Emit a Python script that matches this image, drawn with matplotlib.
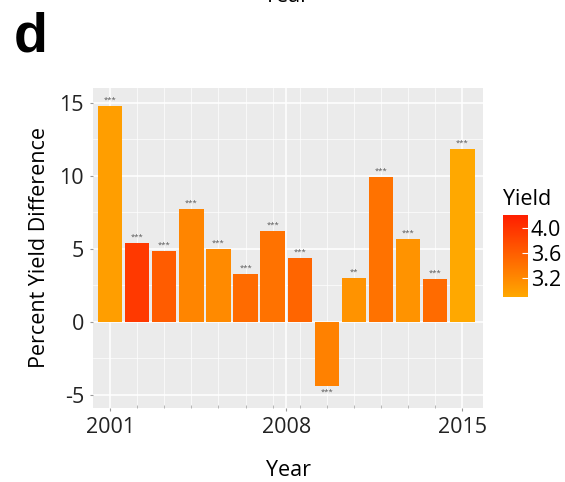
import numpy as np
import matplotlib.pyplot as plt
from matplotlib.colors import LinearSegmentedColormap, Normalize
from matplotlib.colorbar import ColorbarBase

plt.rcParams['font.family'] = ['Open Sans', 'DejaVu Sans']

years = list(range(2001, 2015))
pct_diff = [14.8, 5.4, 4.85, 7.75, 5.0, 3.3, 6.2, 4.35, -4.4, 3.0, 9.9, 5.65, 2.9, 11.8]
yields = [3.0, 3.95, 3.62, 3.23, 3.18, 3.47, 3.41, 3.53, 3.27, 3.1, 3.41, 3.1, 3.47, 2.9]
stars = ['***', '***', '***', '***', '***', '***', '***', '***', '***', '**', '***', '***', '***', '***']
tick_pos = [1, 7.5, 14]
tick_labels = ['2001', '2008', '2015']

cmap = LinearSegmentedColormap.from_list('yld', ['#FFA800', '#FF1E00'])
norm = Normalize(vmin=2.9, vmax=4.2)

fig = plt.figure(figsize=(5.65, 4.82), dpi=100)
ax = fig.add_axes([93/565, 1-408/482, 390/565, 320/482])
ax.set_facecolor('#EBEBEB')

pos = np.arange(1, len(years) + 1)
ax.bar(pos, pct_diff, width=0.9, color=cmap(norm(np.array(yields))), zorder=3)
for p, v, s in zip(pos, pct_diff, stars):
    if v >= 0:
        ax.text(p, v + 0.15, s, ha='center', va='bottom', fontsize=5.5, color='#555555', zorder=4)
    else:
        ax.text(p, v - 0.15, s, ha='center', va='top', fontsize=5.5, color='#555555', zorder=4)

ax.set_xlim(0.37, 14.76)
ax.set_ylim(-5.9, 16.0)
ax.set_yticks([-5, 0, 5, 10, 15])
ax.set_yticklabels(['-5', '0', '5', '10', '15'])
ax.set_yticks([-2.5, 2.5, 7.5, 12.5], minor=True)
ax.set_xticks(tick_pos)
ax.set_xticklabels(tick_labels)
ax.set_xticks(pos, minor=True)
ax.grid(True, which='major', color='white', linewidth=1.1, zorder=0)
ax.grid(True, which='minor', color='white', linewidth=0.5, zorder=0)
ax.set_axisbelow(True)
for sp in ax.spines.values():
    sp.set_visible(False)
ax.tick_params(axis='both', which='major', labelsize=15.5, length=2.5, color='#999999', pad=4, labelcolor='#222222')
ax.tick_params(axis='y', which='minor', length=0)
ax.tick_params(axis='x', which='minor', direction='in', length=2, color='#aaaaaa')
ax.set_ylabel('Percent Yield Difference', fontsize=15.5, labelpad=7)
ax.set_xlabel('Year', fontsize=15.5, labelpad=16)

cax = fig.add_axes([503/565, 1-297/482, 25/565, 82/482])
cb = ColorbarBase(cax, cmap=cmap, norm=norm, orientation='vertical')
cb.set_ticks([3.2, 3.6, 4.0])
cb.set_ticklabels(['3.2', '3.6', '4.0'])
cb.outline.set_visible(False)
cax.tick_params(length=4, direction='in', color='white', labelsize=15.5, pad=2)
cax.set_title('Yield', fontsize=15.5, loc='left', pad=7)

fig.text(14/565, 1-38/482, 'd', fontsize=40, fontweight='bold', family='Liberation Sans', va='center', ha='left')
fig.text(286/565, 1+3/482, 'Year', fontsize=15.5, ha='center', va='center')

plt.savefig('out.png', dpi=100)
